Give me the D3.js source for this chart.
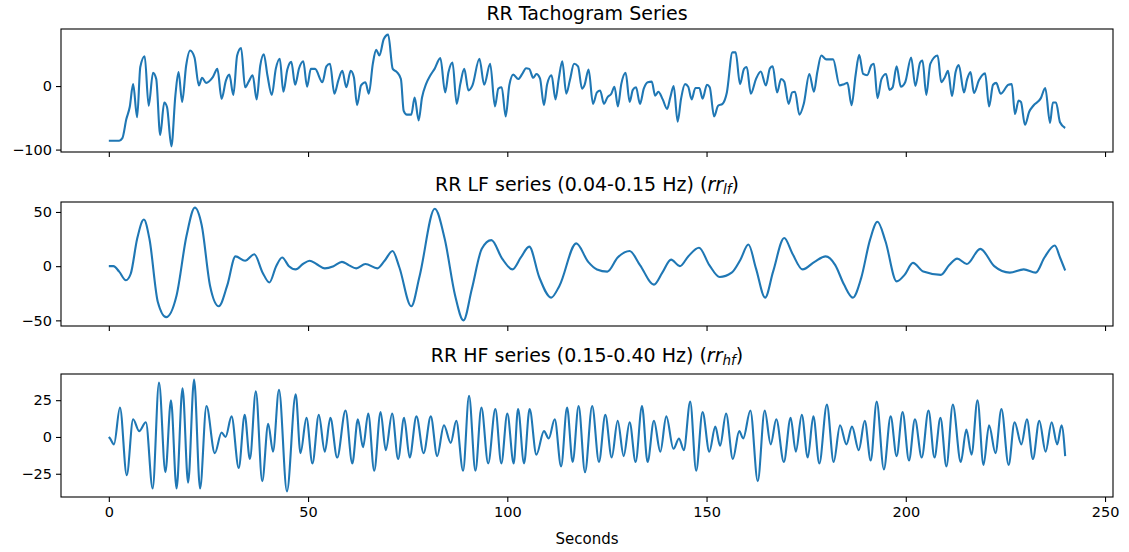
<!DOCTYPE html>
<html>
<head>
<meta charset="utf-8">
<script src="https://cdn.jsdelivr.net/npm/d3@7/dist/d3.min.js"></script>
<style>
  body { margin: 0; background: #fff; }
  text { font-family: "DejaVu Sans", sans-serif; fill: #000; }
</style>
</head>
<body>
<svg id="chart" width="1129" height="552"></svg>
<script>
// RR tachogram, [seconds, ms deviation]
const tachoPoints = [[0,-86],[2.6,-86],[3.4,-82],[4.4,-52],[5.25,-33],[6.1,3],[7.1,-49],[7.9,30],[9,47],[10,-31],[11.1,21],[11.9,11],[12.9,-77],[13.9,-26],[14.6,-33],[15.7,-95],[16.7,-15],[17.5,22],[18.4,-25],[19.4,32],[20.4,56],[21.5,45],[22.6,1],[23.4,13],[24.4,5],[26.1,14],[27.25,27],[28.3,-20],[29.4,9],[30.25,18],[31.25,-14],[32.2,48],[33.2,60],[34.2,-2],[35.1,7],[36.1,17],[37.1,-21],[38,32],[38.9,50],[39.8,17],[40.9,-14],[41.9,27],[42.9,43],[43.8,-9],[44.8,26],[45.8,38],[46.75,2],[47.75,28],[48.8,39],[49.75,-1],[50.7,27],[51.75,27],[53.6,6],[54.6,31],[55.5,35],[56.6,-12],[57.6,9],[58.6,24],[59.6,-2],[60.7,24],[61.5,14],[62.3,-30],[63.3,1],[64.4,6],[65.25,-12],[66.25,35],[67.1,57],[67.9,48],[69,74],[70.1,81],[71.25,27],[72.3,22],[73.3,11],[74,-39],[74.8,-45],[75.9,-45],[76.75,-18],[77.75,-54],[78.6,-18],[79.6,3],[80.7,17],[81.75,27],[83.2,44],[84.4,-10],[85.25,22],[86.25,37],[87.3,-28],[88.2,3],[89.2,27],[90.25,-7],[91.25,1],[93,43],[94.2,2],[95.7,35],[96.9,-32],[97.75,-4],[98.6,-2],[99.6,-48],[100.5,1],[101.5,18],[102.75,11],[103.75,19],[104.7,28],[105.5,27],[106.5,13],[107.3,19],[108.2,12],[109.2,-30],[110,3],[111.1,17],[112.1,-21],[112.9,11],[113.8,39],[114.8,-12],[115.7,9],[116.75,35],[117.75,31],[118.75,-4],[119.4,2],[120.4,26],[121.5,-28],[122.5,-10],[123.3,-7],[124.25,-28],[125.1,-18],[126.1,-12],[126.9,-1],[127.75,-32],[128.6,3],[129.7,21],[130.7,-25],[131.5,-6],[132.3,-2],[133.3,-28],[134.25,-4],[135.25,6],[136.25,7],[137.1,-15],[137.9,-9],[139,-21],[140.1,-36],[140.9,-18],[141.75,0],[142.75,-56],[143.6,-20],[144.6,3],[145.4,-1],[146.25,-21],[147.2,-3],[148.2,-3],[149,-20],[150.1,2],[150.8,-2],[151.9,-48],[152.9,-31],[154,-28],[155.1,-10],[156.5,53],[157.3,53],[158.4,3],[159.4,27],[160.1,30],[161.1,-12],[162.4,11],[163.6,23],[164.9,1],[165.9,28],[166.6,31],[167.7,-10],[168.7,11],[169.5,7],[170.6,-28],[171.5,-10],[172.2,-9],[173.3,-45],[174.4,-28],[175.8,19],[176.95,-9],[177.8,22],[178.8,48],[180.05,42],[181.75,42],[183.4,1],[184.5,3],[185.35,5],[186.4,-30],[187.4,17],[188.3,49],[189.3,19],[190.3,17],[191.4,33],[192,35],[192.9,-19],[193.9,11],[195.05,19],[195.9,-6],[196.7,-2],[197.7,31],[198.75,-1],[199.85,6],[201.35,45],[202.4,0],[203.6,37],[204.2,40],[205.15,-14],[206.15,35],[208,48],[208.9,6],[209.8,14],[210.6,24],[211.6,-16],[212.5,22],[213.3,33],[214.6,-10],[215.4,11],[216.25,22],[217.1,-11],[218.35,9],[219.9,20],[220.9,-32],[221.9,2],[222.7,5],[223.8,-12],[225.75,2],[226.6,3],[227.4,-44],[228.3,-23],[228.9,-25],[229.9,-61],[231,-40],[232,-31],[233.9,-19],[235,-3],[236.2,-58],[236.9,-26],[237.7,-26],[238.7,-57],[240,-66]];

// LF band (0.04-0.15 Hz) turning points
const lfPoints = [[0,0],[1.15,0],[2.6,-5],[4.3,-13],[5.5,-7],[7.1,25],[8.8,43],[10.2,25],[12.3,-33],[14.4,-47],[17,-27],[19.5,28],[21.6,54],[23.3,38],[25.4,-18],[27.6,-37],[29.7,-18],[31.8,9],[34.2,5],[36.5,11],[38.6,-6],[40.3,-15],[42,0],[43.5,8],[45.2,0],[46.9,-3],[48.7,2],[50.4,5],[52.1,2],[54.2,-2],[56.4,0],[58.5,4],[60.2,1],[62.1,-2],[64.4,2],[67.4,-2],[69.2,5],[71.2,14],[72.9,-1],[75.9,-37],[78,-9],[81.8,53],[84.3,25],[86.9,-27],[89,-50],[91.1,-21],[93.6,16],[96,24],[98.7,7],[101.3,-3],[103.4,8],[105.5,18],[108,-10],[111,-29],[113.1,-18],[117.3,21],[120.3,4],[122.5,-3],[125.1,-5],[127.7,8],[130.7,14],[133.3,1],[136.8,-17],[138.9,-6],[141.1,6],[143.3,0],[145.4,9],[148.1,17],[150.7,1],[153.3,-10],[156.3,-6],[158.5,6],[160.5,20],[162.4,-2],[164.7,-29],[166.7,-5],[169.5,26],[171.5,12],[174.1,-3],[177.1,4],[179.9,9],[182.3,1],[184.5,-17],[186.7,-29],[188.8,-11],[191,24],[192.9,41],[194.9,23],[197.7,-14],[199.7,-8],[201.8,3],[204.4,-5],[208.8,-8],[210.9,1],[212.9,7],[215.3,2],[218.7,16],[222.2,0],[226.1,-6],[229.6,-3],[232.6,-6],[234.8,8],[237.4,19],[238.7,8],[240,-4]];

// HF band (0.15-0.40 Hz) turning points
const hfPoints = [[0,0],[0.3,-1],[1.3,-5],[2.8,20],[4.5,-26],[6.1,12],[7.6,4],[9.3,10],[11,-35],[12.6,37],[14.2,-24],[15.6,25],[17,-35],[18.5,33],[19.9,-31],[21.4,39],[22.9,-35],[24.5,21],[26.6,-11],[28.3,3],[29.3,0],[30.8,14],[32.6,-21],[34.1,15],[35.4,-15],[36.9,31],[38.5,-30],[40,9],[41.2,-10],[42.7,32],[44.7,-37],[46.9,29],[48.1,-11],[49.6,13],[51.1,-18],[52.7,15],[54.2,-10],[55.6,13],[57.3,-14],[59.4,18],[61.1,-18],[62.5,12],[63.8,-7],[65.1,16],[66.6,-23],[68.2,17],[69.5,-9],[71.1,16],[72.6,-15],[74.1,13],[75.5,-14],[77.2,14],[79,-11],[80.8,14],[82.4,-13],[84.1,8],[85.8,-4],[87.2,11],[88.9,-23],[90.4,28],[92,-23],[93.5,20],[95.2,-18],[97,19],[98.5,-18],[100,16],[101.6,-18],[102.7,19],[104.2,-18],[105.6,19],[107.3,-12],[109.2,4],[110.4,-1],[111.9,12],[113.5,-20],[115,20],[116.4,-17],[117.9,21],[119.5,-24],[121.3,21],[123,-17],[124.6,15],[126.2,-14],[127.7,11],[129.2,-13],[130.7,10],[132.2,-17],[133.8,21],[135.2,-17],[136.8,11],[138.4,-10],[139.9,14],[141.7,-8],[143.1,-1],[144.3,-9],[145.9,24],[147.4,-23],[149,17],[150.7,-10],[152.2,7],[153.4,-6],[154.9,16],[156.6,-15],[158.2,4],[159.2,-1],[161,18],[162.85,-30],[164.6,18],[166.1,-5],[167.5,12],[169.4,-17],[171.1,13],[172.4,-10],[173.9,15],[175.4,-14],[176.8,14],[178.3,-18],[180.2,22],[181.9,-17],[183.5,8],[185.1,-5],[186.5,7],[188.2,-9],[189.7,11],[191.2,-16],[192.7,24],[194.5,-22],[196.2,14],[197.7,-13],[199.2,17],[200.8,-16],[202.3,12],[204,-14],[205.7,18],[207.2,-14],[208.7,13],[210.2,-20],[211.8,22],[213.8,-17],[215.2,5],[216.5,-12],[218,25],[219.5,-19],[220.9,8],[222.5,-11],[224,19],[225.8,-19],[227.3,10],[229,-5],[230.4,12],[231.9,-15],[233.5,11],[235.1,-10],[236.6,10],[238,-5],[239.1,8],[240,-13]];

const xTicks = [0, 50, 100, 150, 200, 250];
const tachoTicks = [-100, 0];
const lfTicks = [-50, 0, 50];
const hfTicks = [-25, 0, 25];

const svg = d3.select("#chart");
const left = 61, right = 1113;
const lineColor = "#1f77b4";

// shared x scale with matplotlib-like 5% margins
const tMax = d3.max(tachoPoints, d => d[0]);
const xScale = d3.scaleLinear()
    .domain([-0.05 * tMax, tMax * 1.05])
    .range([left, right]);

const panels = [
    { points: tachoPoints, ticks: tachoTicks, top: 29, bottom: 152, titleY: 20, curve: d3.curveMonotoneX, showX: false },
    { points: lfPoints, ticks: lfTicks, top: 202, bottom: 326, titleY: 191, curve: d3.curveMonotoneX, showX: false },
    { points: hfPoints, ticks: hfTicks, top: 374, bottom: 497, titleY: 362, curve: d3.curveMonotoneX, showX: true }
];

panels.forEach((p, i) => {
    const ext = d3.extent(p.points, d => d[1]);
    const pad = (ext[1] - ext[0]) * 0.05;
    const yScale = d3.scaleLinear()
        .domain([ext[0] - pad, ext[1] + pad])
        .range([p.bottom, p.top]);

    const g = svg.append("g");

    const line = d3.line()
        .x(d => xScale(d[0]))
        .y(d => yScale(d[1]))
        .curve(p.curve);

    g.append("path")
        .datum(p.points)
        .attr("d", line)
        .attr("fill", "none")
        .attr("stroke", lineColor)
        .attr("stroke-width", 2.1)
        .attr("stroke-linejoin", "round");

    // y axis
    const yAxis = g.append("g")
        .attr("transform", `translate(${left},0)`)
        .call(d3.axisLeft(yScale).tickValues(p.ticks).tickSize(5).tickPadding(4).tickSizeOuter(0));
    yAxis.select(".domain").remove();
    yAxis.selectAll("line").attr("stroke", "#000").attr("stroke-width", 1.1);
    yAxis.selectAll("text").attr("font-size", 14.5).attr("font-family", "DejaVu Sans").attr("fill", "#000");

    // x axis
    const xAxis = g.append("g")
        .attr("transform", `translate(0,${p.bottom})`)
        .call(d3.axisBottom(xScale).tickValues(xTicks).tickSize(5).tickPadding(5).tickSizeOuter(0)
            .tickFormat(p.showX ? d3.format("d") : () => ""));
    xAxis.select(".domain").remove();
    xAxis.selectAll("line").attr("stroke", "#000").attr("stroke-width", 1.1);
    xAxis.selectAll("text").attr("font-size", 14.5).attr("font-family", "DejaVu Sans").attr("fill", "#000");

    // frame
    g.append("rect")
        .attr("x", left)
        .attr("y", p.top)
        .attr("width", right - left)
        .attr("height", p.bottom - p.top)
        .attr("fill", "none")
        .attr("stroke", "#000")
        .attr("stroke-width", 1.1);

    // title
    const title = g.append("text")
        .attr("x", (left + right) / 2)
        .attr("y", p.titleY)
        .attr("text-anchor", "middle")
        .attr("font-size", 19);
    if (i === 0) {
        title.text("RR Tachogram Series");
    } else {
        const band = i === 1 ? "RR LF series (0.04-0.15 Hz) (" : "RR HF series (0.15-0.40 Hz) (";
        const sub = i === 1 ? "lf" : "hf";
        title.append("tspan").text(band);
        title.append("tspan").attr("font-style", "italic").text("rr");
        title.append("tspan").attr("font-style", "italic").attr("font-size", 13.5).attr("dy", 3).text(sub);
        title.append("tspan").attr("dy", -3).text(")");
    }
});

svg.append("text")
    .attr("x", (left + right) / 2)
    .attr("y", 544)
    .attr("text-anchor", "middle")
    .attr("font-size", 15)
    .text("Seconds");
</script>
</body>
</html>
